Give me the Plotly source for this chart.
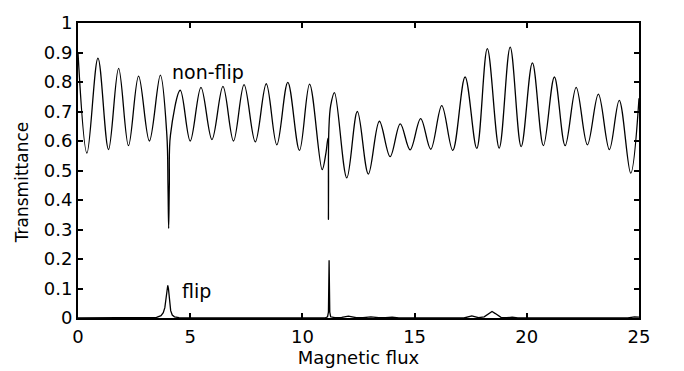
import plotly.graph_objects as go

# Transmittance versus magnetic flux for the two spin channels.
# non-flip: extrema of the oscillation (plus the narrow resonance dips),
# joined with a smoothing spline.
nonflip_x = [0.0, 0.40, 0.89, 1.36, 1.81, 2.25, 2.70, 3.18, 3.67,
             3.96, 4.01, 4.04, 4.07, 4.12,
             4.56, 5.00, 5.48, 5.97, 6.46, 6.93, 7.40, 7.90, 8.39, 8.86,
             9.35, 9.87, 10.32, 10.88, 11.05, 11.14, 11.16, 11.18, 11.26,
             11.43, 11.98, 12.45, 12.94, 13.43, 13.91, 14.36, 14.80, 15.27,
             15.72, 16.21, 16.70, 17.25, 17.77, 18.24, 18.77, 19.26, 19.75,
             20.25, 20.74, 21.23, 21.71, 22.20, 22.70, 23.19, 23.68, 24.12,
             24.63, 25.0]
nonflip_y = [0.90, 0.559, 0.881, 0.571, 0.846, 0.584, 0.820, 0.600, 0.823,
             0.62, 0.45, 0.304, 0.45, 0.62,
             0.772, 0.600, 0.782, 0.605, 0.785, 0.600, 0.791, 0.597, 0.794, 0.587,
             0.799, 0.568, 0.793, 0.503, 0.56, 0.61, 0.334, 0.64, 0.72,
             0.764, 0.475, 0.700, 0.488, 0.667, 0.547, 0.658, 0.570, 0.676,
             0.572, 0.720, 0.568, 0.817, 0.575, 0.913, 0.576, 0.918, 0.581,
             0.865, 0.584, 0.817, 0.584, 0.782, 0.587, 0.759, 0.571, 0.738,
             0.491, 0.745]

# flip: nearly zero except for the resonances near 4 and 11.
flip_x = [0.0, 3.50, 3.70, 3.80, 3.87, 3.93, 3.97, 4.00, 4.03, 4.07, 4.13,
          4.20, 4.30, 4.50, 11.00, 11.12, 11.16, 11.19, 11.22, 11.26, 11.45,
          11.75, 12.05, 12.40, 12.70, 13.05, 13.40, 13.70, 14.00, 14.30,
          17.20, 17.55, 17.85, 18.10, 18.30, 18.45, 18.60, 18.85, 19.10,
          19.35, 19.60, 24.50, 24.80, 25.0]
flip_y = [0.0, 0.002, 0.008, 0.018, 0.035, 0.07, 0.100, 0.111, 0.100, 0.06,
          0.025, 0.010, 0.004, 0.001, 0.0, 0.004, 0.02, 0.196, 0.02, 0.004,
          0.001, 0.002, 0.006, 0.001, 0.001, 0.004, 0.001, 0.001, 0.003, 0.0,
          0.0, 0.007, 0.001, 0.004, 0.015, 0.022, 0.015, 0.002, 0.001,
          0.003, 0.0, 0.0, 0.004, 0.003]

x_ticks = [0, 5, 10, 15, 20, 25]
y_ticks = [0, 0.1, 0.2, 0.3, 0.4, 0.5, 0.6, 0.7, 0.8, 0.9, 1]
y_tick_text = ["0", "0.1", "0.2", "0.3", "0.4", "0.5", "0.6", "0.7", "0.8", "0.9", "1"]

FONT = "DejaVu Sans"

fig = go.Figure()
fig.add_trace(go.Scatter(x=nonflip_x, y=nonflip_y, mode="lines", name="non-flip",
                         line=dict(color="black", width=1.3, shape="spline", smoothing=1.0)))
fig.add_trace(go.Scatter(x=flip_x, y=flip_y, mode="lines", name="flip",
                         line=dict(color="black", width=1.3)))

fig.add_annotation(x=5.8, y=0.835, text="non-flip", showarrow=False,
                   font=dict(family=FONT, size=19, color="black"))
fig.add_annotation(x=5.3, y=0.093, text="flip", showarrow=False,
                   font=dict(family=FONT, size=19, color="black"))

# y-axis title, placed in paper coordinates
fig.add_annotation(xref="paper", yref="paper", x=-0.0998, y=0.46,
                   text="Transmittance", textangle=-90, showarrow=False,
                   xanchor="center", yanchor="middle",
                   font=dict(family=FONT, size=17, color="black"))

axis_common = dict(showgrid=False, zeroline=False, showline=True, linecolor="black",
                   linewidth=2, mirror="ticks", ticks="inside", ticklen=5,
                   tickwidth=1.5, tickcolor="black",
                   tickfont=dict(family=FONT, size=18, color="black"))

fig.update_xaxes(range=[0, 25], tickvals=x_ticks, ticklabelstandoff=1,
                 title=dict(text="Magnetic flux", standoff=0,
                            font=dict(family=FONT, size=18, color="black")),
                 **axis_common)
fig.update_yaxes(range=[0, 1], tickvals=y_ticks, ticktext=y_tick_text,
                 **axis_common)

fig.update_layout(width=684, height=371, showlegend=False,
                  plot_bgcolor="white", paper_bgcolor="white",
                  margin=dict(l=78, r=45, t=14, b=43))

fig.write_html("out.html")
